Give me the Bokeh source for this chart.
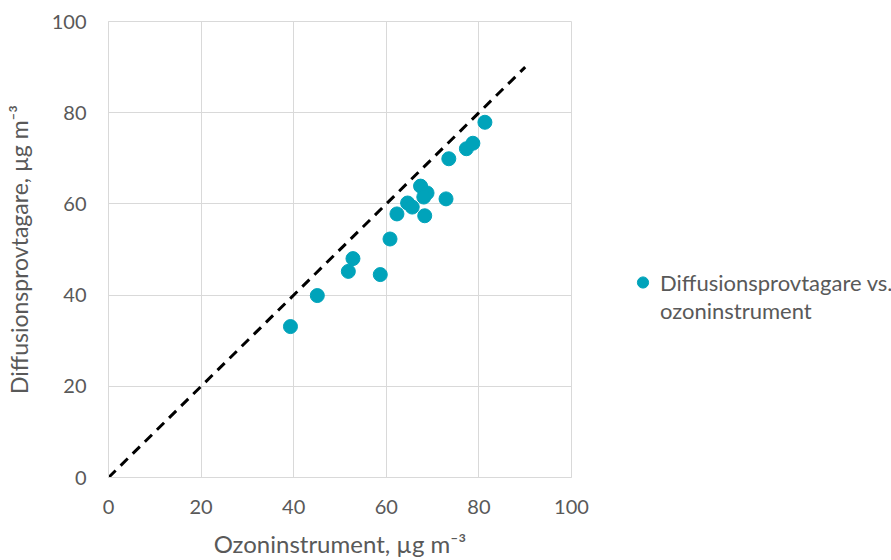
from bokeh.plotting import figure
from bokeh.models import Legend, LegendItem, FixedTicker, Range1d
from bokeh.embed import file_html
from bokeh.resources import INLINE

# Data
ozon_instrument = [39.3, 45.1, 51.8, 52.8, 58.7, 60.8, 62.3, 64.6, 65.6, 67.4,
                   68.8, 68.1, 68.3, 72.9, 73.5, 77.3, 78.7, 81.3]
diffusion = [33.1, 39.9, 45.2, 48.0, 44.5, 52.3, 57.8, 60.2, 59.3, 63.9,
             62.4, 61.5, 57.4, 61.1, 69.9, 72.1, 73.3, 77.9]
line_x = [0, 90]
line_y = [0, 90]
ticks = [0, 20, 40, 60, 80, 100]
legend_lines = ["Diffusionsprovtagare vs.", "ozoninstrument"]

FONT = "Lato"
GRAY = "#595959"
GRID = "#d9d9d9"

p = figure(width=891, height=558, output_backend="svg", toolbar_location=None,
           x_range=Range1d(0, 100), y_range=Range1d(0, 100),
           min_border_left=108, min_border_right=0, min_border_top=21,
           min_border_bottom=70)
p.frame_width = 463
p.frame_height = 456

p.line(line_x, line_y, line_color="black", line_width=3, line_dash="10 7")
r = p.scatter(ozon_instrument, diffusion, size=14, fill_color="#00A3BA",
              line_color="#00A3BA")

for ax in (p.xaxis, p.yaxis):
    ax.ticker = FixedTicker(ticks=ticks)
    ax.major_tick_line_color = None
    ax.minor_tick_line_color = None
    ax.axis_line_color = GRID
    ax.major_label_text_font = FONT
    ax.major_label_text_font_size = "20px"
    ax.major_label_text_color = GRAY
    ax.axis_label_text_font = FONT
    ax.axis_label_text_font_style = "normal"
    ax.axis_label_text_color = GRAY

p.xaxis.axis_label_text_font_size = "24px"
p.yaxis.axis_label_text_font_size = "23px"
p.xaxis.axis_label = "Ozoninstrument, µg m⁻³"
p.yaxis.axis_label = "Diffusionsprovtagare, µg m⁻³"
p.xaxis.major_label_standoff = 16
p.yaxis.major_label_standoff = 16
p.xaxis.axis_label_standoff = 12
p.yaxis.axis_label_standoff = 16

p.xgrid.grid_line_color = GRID
p.ygrid.grid_line_color = GRID
p.xgrid.ticker = FixedTicker(ticks=ticks)
p.ygrid.ticker = FixedTicker(ticks=ticks)
p.outline_line_color = GRID

legend = Legend(items=[LegendItem(label=legend_lines[0], renderers=[r]),
                       LegendItem(label=legend_lines[1], renderers=[])],
                location=(54, 153), orientation="vertical", spacing=0,
                background_fill_alpha=0, border_line_color=None,
                label_text_font=FONT, label_text_font_size="22px",
                label_text_color=GRAY, padding=0, margin=0,
                glyph_width=35, glyph_height=28, label_standoff=-12)
p.add_layout(legend, "right")

open("out.html", "w").write(file_html(p, INLINE))
